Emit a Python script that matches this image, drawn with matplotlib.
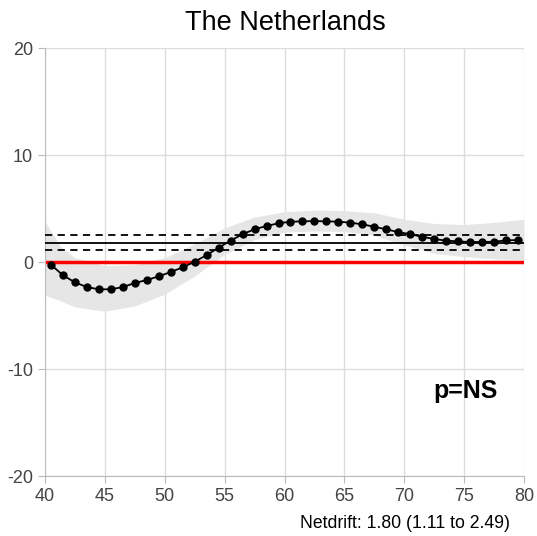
import numpy as np
import matplotlib.pyplot as plt

plt.rcParams["font.family"] = ["Liberation Sans", "DejaVu Sans"]
plt.rcParams["axes.unicode_minus"] = False

# local drift estimates, one per age group
ages = np.arange(40.5, 80, 1.0)
drift = [
    -0.25, -1.24, -1.9, -2.34, -2.55, -2.55, -2.34, -1.96, -1.68, -1.34,
    -0.93, -0.5, 0.03, 0.65, 1.34, 2.0, 2.6, 3.06, 3.37, 3.62,
    3.77, 3.8, 3.83, 3.8, 3.77, 3.68, 3.52, 3.3, 3.05, 2.8,
    2.6, 2.36, 2.15, 2.0, 1.93, 1.87, 1.87, 1.9, 2.02, 2.06,
]

# confidence band
band_age = [40, 41.25, 42.5, 45, 47.5, 50, 52.5, 55, 57.5, 60,
            62.5, 65, 67.5, 70, 72.5, 75, 77.5, 80]
band_upper = [3.8, 1.5, 0.4, -0.35, -0.25, 0.4, 1.7, 3.2, 4.2, 4.7,
              4.85, 4.8, 4.6, 4.0, 3.6, 3.5, 3.7, 4.0]
band_lower = [-3.1, -3.6, -4.2, -4.6, -4.1, -3.0, -1.3, 0.7, 2.1, 2.8,
              2.9, 2.85, 2.5, 1.6, 0.8, 0.5, 0.3, 0.2]

netdrift = 1.80
netdrift_ci = (1.11, 2.49)

fig = plt.figure(figsize=(5.37, 5.36), dpi=100)
ax = fig.add_axes([0.0838, 0.1119, 0.8920, 0.7985])

ax.fill_between(band_age, band_lower, band_upper, color="#e6e6e6", lw=0, zorder=1)
ax.axhline(0, color="#ff0000", lw=2.5, zorder=2)
ax.axhline(netdrift, color="black", lw=1.3, zorder=3)
for v in netdrift_ci:
    ax.axhline(v, color="black", lw=1.3, ls=(0, (4, 3)), zorder=3)
ax.plot(ages, drift, color="black", lw=1.3, marker="o", ms=5, zorder=4)

ax.set_xlim(40, 80)
ax.set_ylim(-20, 20)
ax.set_xticks(range(40, 81, 5))
ax.set_yticks(range(-20, 21, 10))
ax.grid(True, color="#dddddd", lw=1)
ax.set_axisbelow(True)
for side in ["top", "right"]:
    ax.spines[side].set_visible(False)
for side in ["left", "bottom"]:
    ax.spines[side].set_color("#bbbbbb")
ax.tick_params(colors="#bbbbbb", labelcolor="#444444", labelsize=13, length=5)

fig.text(0.5307, 0.944, "The Netherlands", fontsize=19.5, ha="center", va="baseline")
ax.text(75.1, -12.7, "p=NS", fontsize=18, fontweight="bold", ha="center", va="baseline")
fig.text(0.95, 0.015, "Netdrift: %.2f (%.2f to %.2f)" % (netdrift, *netdrift_ci),
         fontsize=12.7, ha="right", va="baseline")

fig.savefig("out.png", dpi=100)
